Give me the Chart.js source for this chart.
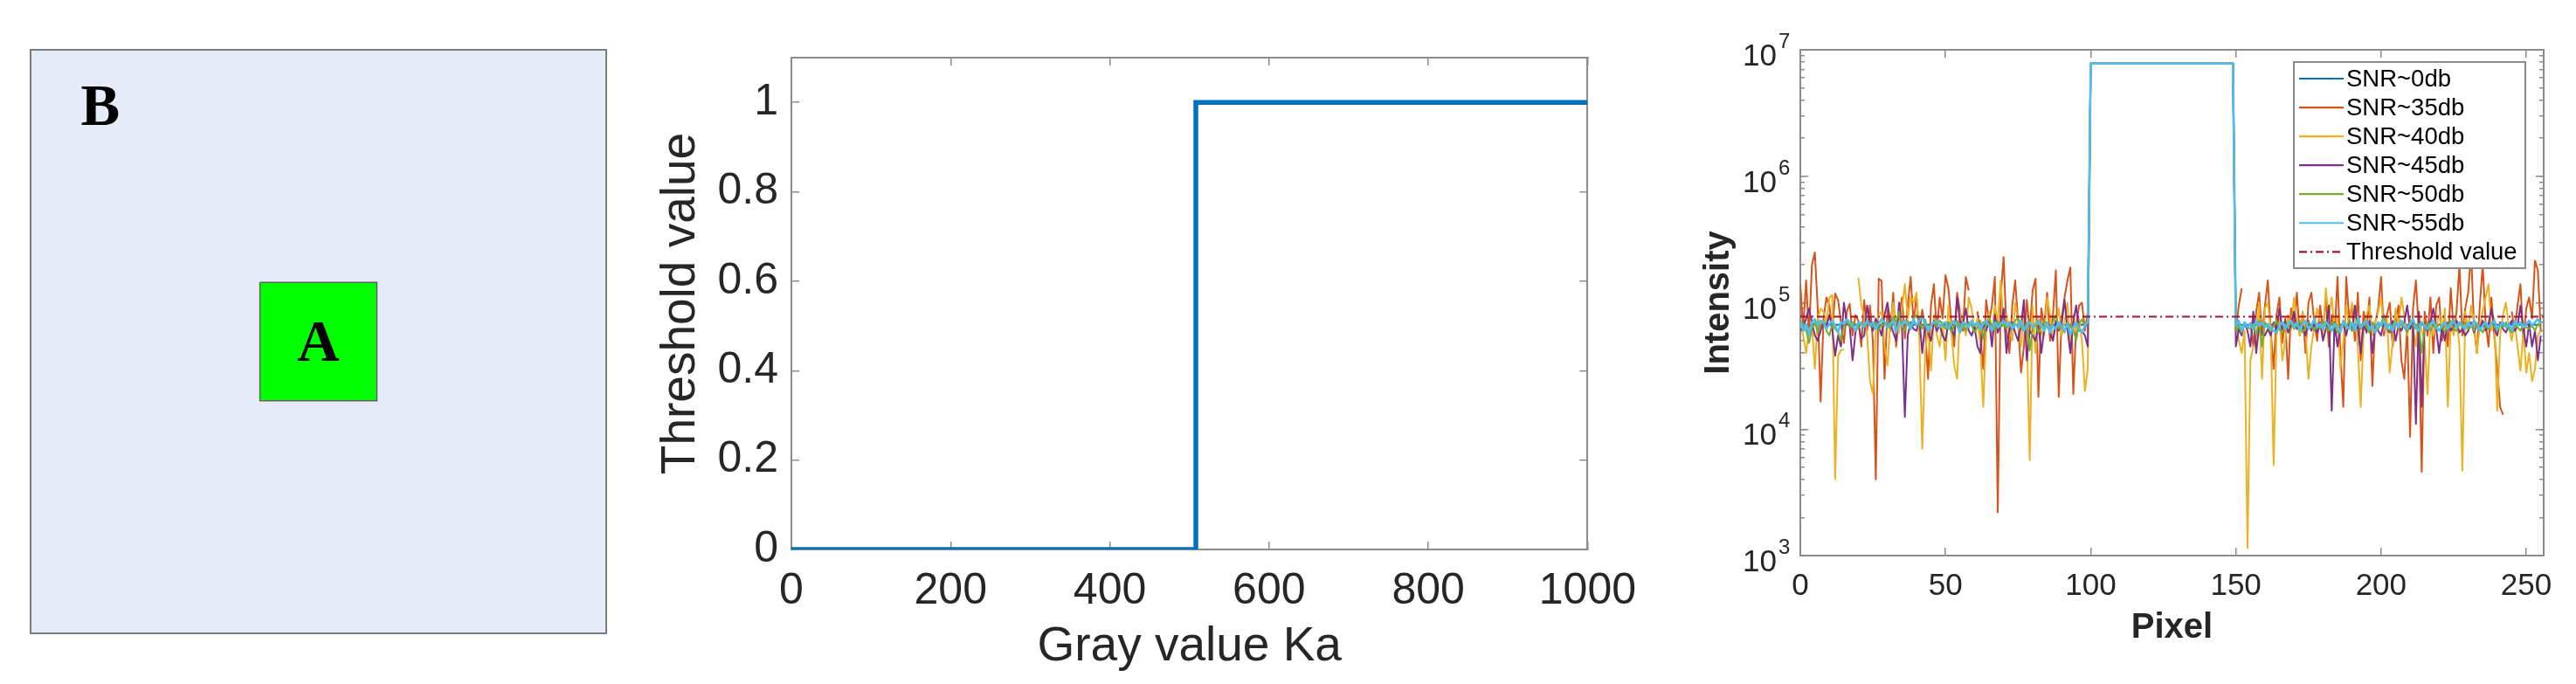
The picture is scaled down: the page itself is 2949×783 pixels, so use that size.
<!DOCTYPE html>
<html>
<head>
<meta charset="utf-8">
<title>Scene, threshold function and intensity profile</title>
<script src="https://cdn.jsdelivr.net/npm/chart.js@4.4.1/dist/chart.umd.min.js"></script>
<style>
  html, body { margin: 0; padding: 0; background: #fff; }
  #wrap { position: relative; width: 2949px; height: 783px; overflow: hidden; }
  canvas { position: absolute; top: 0; }
</style>
</head>
<body>
<div id="wrap">
  <canvas id="scene" width="720" height="783" style="left:0px"></canvas>
  <canvas id="step" width="1160" height="783" style="left:740px"></canvas>
  <canvas id="profile" width="1049" height="783" style="left:1900px"></canvas>
</div>
<script>
// ---- panel 1: the 256x256 scene, object A inside background B
const imageSize = 256;
const squareX = [102, 154, 154, 102, 102];
const squareY = [102, 102, 154, 154, 102];
const regionLabels = ['A', 'B'];

// ---- panel 2: threshold step function
const stepX = [0, 508, 508, 1000];
const stepY = [0, 0, 1, 1];

// ---- panel 3: intensity profile along one row (values in thousands)
const seriesLabels = ['SNR~0db', 'SNR~35db', 'SNR~40db', 'SNR~45db', 'SNR~50db', 'SNR~55db', 'Threshold value'];
const seriesColors = ['#0072BD', '#D95319', '#EDB120', '#7E2F8E', '#77AC30', '#4DBEEE', '#A2142F'];
const intensityDecades = [3, 4, 5, 6, 7];
const pixelTicks = [0, 50, 100, 150, 200, 250];

const rightStart = 150;          // first pixel after the object
const plateauX = [100, 149];     // object pixels
const plateauK = [7780, 7780];

const snr0X = [0, 99, 100, 149, 150, 255];
const snr0K = [67, 67, 7780, 7780, 67, 67];
const thresholdX = [0, 256];
const thresholdK = [77.5, 77.5];

const snr35Left = [
  140, 62, 150, 55, 200, 250, 90, 16.5, 75, 110,
  95, 60, 118, 105, 70, 48, 85, 98, 55, 80,
  72, 45, 105, 60, 95, 50, 4, 155, 148, 25,
  88, 60, 120, 45, 78, 110, 52, 95, 160, 70,
  112, 55, 88, 62, 25, 95, 140, 58, 110, 75,
  165, 130, 70, 45, 120, 85, 60, 160, 125, null,
  null, 85, 55, 30, 105, 70, 95, 160, 2.2, 110,
  230, 60, 40, 95, 150, 70, 28, 45, 105, 60,
  125, 155, 18, 90, 65, 120, 50, 80, 180, 18,
  75, 110, 150, 190, 19, 65, 95, 100, 60, 85
];
const snr35Right = [
  60, 95, 130, null, null, 70, 45, 85, 120, 55,
  95, 150, 60, 30, 80, 110, 48, 75, 25, 90,
  65, 120, 55, 85, 40, 100, 120, 70, 50, 95,
  60, 110, 45, 80, 55, 160, 40, 15, 160, 75,
  95, 50, 120, 35, 85, 60, 110, 22, 70, 90,
  160, 55, 80, 100, 45, 70, 95, 35, 25, 65,
  8.7, 90, 150, 60, 4.6, 85, 55, 110, 40, 95,
  110, 50, 75, 45, 130, 60, 85, 200, 55, 90,
  120, 250, 65, 40, 95, 200, 70, 45, 110, 55,
  30, 15, 13, null, null, 85, 60, 95, 140, 50,
  90, 110, 75, 215, 180, 60
];
const snr40Left = [
  70, 55, 40, 62, 65, 30, 75, 90, 85, 70,
  110, 115, 4, 38, 42, 43, null, null, null, null,
  158, 95, 80, 55, 24, 19, 60, 80, 85, 45,
  32, 70, 100, 55, 58, 90, 140, 75, 110, 100,
  120, 50, 7, 40, 65, 29, 80, 55, 45, 70,
  35, 95, 60, 32, 25, 85, 70, 55, 110, 90,
  60, 75, 45, 15, 60, 85, 55, 95, 70, 150,
  65, 80, 60, 50, 100, 70, 45, 85, 60, 5.7,
  95, 40, 75, 60, 55, 110, 80, 50, 65, 90,
  55, 70, 100, 45, 80, 60, 75, 50, 20, 30
];
const snr40Right = [
  70, 50, 40, 60, 1.15, 35, 45, 48, 100, 25,
  90, 100, 60, 5.2, 55, 75, 35, 50, 80, 60,
  110, 70, 55, 85, 60, 25, 45, 65, 90, 70,
  55, 130, 75, 110, 60, 80, 30, 50, 95, 65,
  100, 75, 45, 15, 60, 80, 95, 55, 70, 85,
  110, 60, 75, 28, 50, 90, 65, 110, 80, 55,
  75, 65, 45, 85, 60, 50, 19, 70, 55, 65,
  80, 60, 90, 15, 70, 55, 75, 45, 4.7, 85,
  60, 95, 70, 40, 65, 85, 110, 140, 60, 75,
  14, 55, 80, 100, 65, 50, 70, 45, 29, 60,
  28, 40, 24, 30, 55, 60
];
const snr45Left = [
  60, 65, 75, 90, 70, 55, 50, 60, 72, 65,
  80, 62, 38, 55, 45, 100, 70, 65, 35, 58,
  68, 52, 55, 95, 70, 60, 75, 65, 55, 80,
  100, 70, 58, 50, 100, 65, 12.5, 55, 70, 62,
  60, 75, 40, 68, 58, 50, 72, 60, 66, 55,
  50, 70, 62, 55, 110, 70, 68, 90, 60, 55,
  65, 45, 40, 70, 60, 72, 45, 80, 58, 66,
  90, 40, 62, 70, 58, 50, 65, 105, 35, 60,
  55, 50, 66, 40, 62, 70, 58, 50, 72, 60,
  68, 105, 62, 40, 70, 95, 60, 60, 55, 45
];
const snr45Right = [
  45, 62, 55, 70, 60, 45, 85, 40, 65, 58,
  55, 62, 55, 70, 60, 90, 60, 72, 58, 66,
  85, 62, 70, 65, 55, 72, 60, 68, 58, 70,
  50, 62, 95, 14, 70, 45, 62, 68, 55, 72,
  60, 95, 62, 40, 68, 58, 72, 40, 66, 60,
  55, 70, 62, 58, 72, 50, 66, 60, 70, 95,
  62, 70, 11, 85, 15, 68, 60, 72, 90, 62,
  40, 66, 50, 70, 60, 65, 72, 58, 62, 55,
  60, 70, 58, 66, 62, 72, 60, 68, 90, 62,
  55, 70, 62, 58, 66, 72, 60, 65, 95, 62,
  45, 68, 45, 60, 35, 55
];
const snr50Left = [
  72, 68, 60, 48, 62, 70, 58, 66, 72, 60,
  55, 68, 62, 58, 50, 66, 72, 64, 70, 68,
  62, 70, 66, 72, 68, 64, 70, 60, 68, 66,
  72, 62, 78, 70, 85, 64, 60, 72, 66, 74,
  80, 68, 62, 74, 58, 66, 70, 64, 72, 68,
  62, 70, 58, 66, 72, 64, 68, 60, 70, 66,
  58, 64, 72, 52, 68, 74, 66, 60, 72, 64,
  68, 62, 70, 66, 72, 76, 64, 60, 70, 42,
  62, 68, 58, 66, 72, 64, 60, 70, 80, 62,
  66, 58, 70, 64, 62, 50, 68, 74, 64, 72
];
const snr50Right = [
  60, 66, 58, 70, 64, 62, 68, 55, 72, 45,
  70, 64, 60, 66, 72, 62, 58, 68, 64, 70,
  62, 66, 72, 58, 64, 70, 66, 60, 68, 62,
  72, 64, 60, 70, 66, 58, 62, 68, 64, 72,
  60, 66, 70, 62, 68, 64, 58, 70, 66, 62,
  68, 80, 64, 60, 66, 72, 62, 68, 64, 58,
  70, 66, 62, 68, 40, 64, 70, 60, 66, 62,
  68, 64, 58, 66, 72, 62, 60, 68, 64, 70,
  62, 66, 60, 68, 64, 58, 66, 62, 70, 64,
  60, 68, 64, 70, 62, 58, 66, 64, 60, 68,
  64, 62, 66, 60, 68, 64
];
const snr55Left = [
  72, 60, 68, 55, 70, 74, 66, 72, 70, 62,
  68, 72, 66, 58, 70, 68, 74, 70, 66, 60,
  70, 68, 64, 72, 66, 70, 62, 68, 74, 70,
  64, 68, 72, 58, 70, 66, 72, 68, 62, 74,
  66, 72, 78, 68, 60, 66, 70, 72, 64, 68,
  70, 62, 68, 72, 66, 58, 70, 68, 64, 72,
  66, 70, 62, 68, 72, 66, 60, 70, 64, 68,
  72, 66, 70, 62, 68, 64, 72, 60, 66, 70,
  64, 68, 72, 66, 60, 70, 58, 66, 62, 70,
  66, 60, 68, 56, 64, 70, 62, 58, 66, 70
];
const snr55Right = [
  66, 72, 60, 70, 64, 68, 62, 72, 66, 70,
  64, 68, 62, 60, 58, 66, 70, 62, 68, 72,
  64, 70, 60, 68, 72, 62, 66, 74, 64, 68,
  62, 70, 66, 60, 68, 64, 58, 72, 66, 62,
  70, 60, 76, 64, 68, 72, 62, 66, 58, 70,
  66, 72, 62, 68, 60, 70, 64, 72, 66, 62,
  68, 74, 64, 60, 70, 66, 62, 68, 72, 64,
  60, 66, 70, 62, 68, 72, 64, 70, 66, 62,
  70, 64, 72, 68, 60, 66, 70, 64, 68, 72,
  62, 66, 70, 64, 68, 60, 72, 66, 70, 64,
  68, 72, 66, 70, 74, 68
];

const FONT = "'Liberation Sans', Arial, Helvetica, sans-serif";
const axisGray = '#8c8c8c';
const textGray = '#262626';
Chart.defaults.font.family = FONT;

function toPoints(xs, ks) {
  return xs.map((x, i) => ({ x: x, y: ks[i] * 1000 }));
}

function profilePoints(left, right) {
  const pts = [];
  left.forEach((v, i) => pts.push({ x: i, y: v == null ? null : v * 1000 }));
  plateauX.forEach((x, i) => pts.push({ x: x, y: plateauK[i] * 1000 }));
  right.forEach((v, i) => pts.push({ x: rightStart + i, y: v == null ? null : v * 1000 }));
  return pts;
}

// extra axis that only draws the inward tick marks of the MATLAB box
function tickOnlyAxis(axis, position, base, tickLen, weight) {
  const isX = axis === 'x';
  return Object.assign({
    axis: axis,
    position: position,
    weight: weight || 0,
    ticks: Object.assign({ display: false }, base.ticks || {}),
    grid: { drawOnChartArea: false, tickLength: tickLen, color: axisGray, lineWidth: 1.5 },
    border: { color: axisGray, width: 2 },
    afterFit: s => { if (isX) s.height = 0; else s.width = 0; }
  }, base.range);
}

// ---------------- panel 1 ----------------
const sceneBox = {
  id: 'sceneBox',
  beforeDraw(chart) {
    const { ctx, chartArea: a } = chart;
    ctx.save();
    ctx.fillStyle = '#E6ECF7';
    ctx.fillRect(a.left, a.top, a.width, a.height);
    ctx.restore();
  },
  afterDraw(chart) {
    const { ctx, chartArea: a, scales } = chart;
    ctx.save();
    ctx.strokeStyle = '#7b7b7b';
    ctx.lineWidth = 2;
    ctx.strokeRect(a.left, a.top, a.width, a.height);
    ctx.fillStyle = '#000';
    ctx.font = "bold 67px 'Liberation Serif', 'Times New Roman', serif";
    ctx.textAlign = 'center';
    ctx.textBaseline = 'alphabetic';
    const cx = (Math.min(...squareX) + Math.max(...squareX)) / 2;
    const cy = (Math.min(...squareY) + Math.max(...squareY)) / 2;
    ctx.fillText(regionLabels[0], scales.x.getPixelForValue(cx), scales.y.getPixelForValue(cy) + 22);
    ctx.fillText(regionLabels[1], scales.x.getPixelForValue(31), scales.y.getPixelForValue(33));
    ctx.restore();
  }
};

new Chart(document.getElementById('scene'), {
  type: 'scatter',
  data: {
    datasets: [{
      data: squareX.map((x, i) => ({ x: x, y: squareY[i] })),
      showLine: true,
      fill: 'shape',
      backgroundColor: '#00FF00',
      borderColor: '#606060',
      borderWidth: 1.5,
      pointRadius: 0,
      tension: 0
    }]
  },
  plugins: [sceneBox],
  options: {
    responsive: false,
    animation: false,
    devicePixelRatio: 1,
    layout: { padding: { left: 35, top: 57, right: 26, bottom: 58 } },
    plugins: { legend: { display: false }, tooltip: { enabled: false } },
    scales: {
      x: { type: 'linear', min: 0, max: imageSize, display: false },
      y: { type: 'linear', min: 0, max: imageSize, reverse: true, display: false }
    }
  }
});

// ---------------- panel 2 ----------------
const stepXRange = { type: 'linear', min: 0, max: 1000 };
const stepYRange = { type: 'linear', min: 0, max: 1.1 };

new Chart(document.getElementById('step'), {
  type: 'scatter',
  data: {
    datasets: [{
      data: stepX.map((x, i) => ({ x: x, y: stepY[i] })),
      showLine: true,
      borderColor: '#0072BD',
      borderWidth: 5.5,
      pointRadius: 0,
      tension: 0,
      xAxisID: 'x',
      yAxisID: 'y'
    }]
  },
  options: {
    responsive: false,
    animation: false,
    devicePixelRatio: 1,
    layout: { padding: { left: 7, top: 66, right: 65, bottom: 0 } },
    plugins: { legend: { display: false }, tooltip: { enabled: false } },
    scales: {
      x: Object.assign({}, stepXRange, {
        position: 'bottom',
        ticks: { stepSize: 200, includeBounds: false, maxRotation: 0, autoSkip: false,
                 padding: 27, color: textGray, font: { size: 50 }, callback: v => String(v) },
        grid: { drawOnChartArea: false, tickLength: -9, color: axisGray, lineWidth: 1.5 },
        border: { color: axisGray, width: 2 },
        title: { display: true, text: 'Gray value Ka', color: textGray, font: { size: 55 },
                 padding: { top: 0, bottom: 9 } },
        afterFit: s => { s.height = 154; }
      }),
      y: Object.assign({}, stepYRange, {
        position: 'left',
        ticks: { stepSize: 0.2, includeBounds: false, padding: 24, color: textGray, font: { size: 50 },
                 callback: v => String(Number(v.toFixed(2))) },
        grid: { drawOnChartArea: false, tickLength: -9, color: axisGray, lineWidth: 1.5 },
        border: { color: axisGray, width: 2 },
        title: { display: true, text: 'Threshold value', color: textGray, font: { size: 55 },
                 padding: { top: 0, bottom: 0 } },
        afterFit: s => { s.width = 159; }
      }),
      xTop: tickOnlyAxis('x', 'top', { range: stepXRange, ticks: { stepSize: 200, includeBounds: false } }, -9),
      yRight: tickOnlyAxis('y', 'right', { range: stepYRange, ticks: { stepSize: 0.2, includeBounds: false } }, -9)
    }
  }
});

// ---------------- panel 3 ----------------
const decadeTicks = intensityDecades.map(e => Math.pow(10, e));
const minorTicks = [];
intensityDecades.slice(0, -1).forEach(e => {
  for (let m = 1; m <= 9; m++) minorTicks.push(m * Math.pow(10, e));
});
minorTicks.push(decadeTicks[decadeTicks.length - 1]);

const pixelRange = { type: 'linear', min: 0, max: 256 };
const intensityRange = { type: 'logarithmic', min: decadeTicks[0], max: decadeTicks[decadeTicks.length - 1] };
const setTicks = vals => s => { s.ticks = vals.map(v => ({ value: v })); };

const profileSeries = [
  toPoints(snr0X, snr0K),
  profilePoints(snr35Left, snr35Right),
  profilePoints(snr40Left, snr40Right),
  profilePoints(snr45Left, snr45Right),
  profilePoints(snr50Left, snr50Right),
  profilePoints(snr55Left, snr55Right),
  toPoints(thresholdX, thresholdK)
];

const logLabels = {
  id: 'logLabels',
  afterDraw(chart) {
    const s = chart.scales.y;
    const ctx = chart.ctx;
    ctx.save();
    ctx.fillStyle = textGray;
    ctx.textBaseline = 'alphabetic';
    intensityDecades.forEach(e => {
      const py = s.getPixelForValue(Math.pow(10, e));
      ctx.font = '35px ' + FONT;
      ctx.textAlign = 'right';
      ctx.fillText('10', s.right - 27, py + 18);
      ctx.font = '24px ' + FONT;
      ctx.textAlign = 'left';
      ctx.fillText(String(e), s.right - 25, py - 2);
    });
    ctx.restore();
  }
};

const legendBox = {
  id: 'legendBox',
  afterDatasetsDraw(chart) {
    const { ctx, chartArea } = chart;
    const w = 265, h = 236;
    const right = chartArea.right - 21;
    const top = chartArea.top + 14;
    const left = right - w;
    ctx.save();
    ctx.fillStyle = '#fff';
    ctx.fillRect(left, top, w, h);
    ctx.strokeStyle = '#8a8a8a';
    ctx.lineWidth = 2;
    ctx.strokeRect(left, top, w, h);
    ctx.font = '27.5px ' + FONT;
    ctx.textBaseline = 'middle';
    ctx.textAlign = 'left';
    chart.data.datasets.forEach((ds, i) => {
      const y = top + 19 + i * 33.05;
      ctx.strokeStyle = ds.borderColor;
      ctx.lineWidth = 2.2;
      ctx.setLineDash(ds.borderDash || []);
      ctx.beginPath();
      ctx.moveTo(left + 6, y);
      ctx.lineTo(left + 57, y);
      ctx.stroke();
      ctx.setLineDash([]);
      ctx.fillStyle = '#000';
      ctx.fillText(ds.label, left + 60, y + 1);
    });
    ctx.restore();
  }
};

new Chart(document.getElementById('profile'), {
  type: 'scatter',
  data: {
    datasets: profileSeries.map((pts, i) => ({
      label: seriesLabels[i],
      data: pts,
      showLine: true,
      spanGaps: false,
      borderColor: seriesColors[i],
      borderWidth: i === 5 ? 2.6 : (i === 6 ? 2.2 : 2),
      borderDash: i === 6 ? [9, 4, 2, 4] : [],
      borderJoinStyle: 'round',
      pointRadius: 0,
      tension: 0,
      order: profileSeries.length - i,
      xAxisID: 'x',
      yAxisID: 'y'
    }))
  },
  plugins: [logLabels, legendBox],
  options: {
    responsive: false,
    animation: false,
    devicePixelRatio: 1,
    layout: { padding: { left: 0, top: 57, right: 37, bottom: 0 } },
    plugins: { legend: { display: false }, tooltip: { enabled: false } },
    scales: {
      x: Object.assign({}, pixelRange, {
        position: 'bottom',
        afterBuildTicks: setTicks(pixelTicks),
        ticks: { maxRotation: 0, autoSkip: false, padding: 23, color: textGray, font: { size: 35 },
                 callback: v => String(v) },
        grid: { drawOnChartArea: false, tickLength: -9, color: axisGray, lineWidth: 1.5 },
        border: { color: axisGray, width: 2 },
        title: { display: true, text: 'Pixel', color: textGray, font: { size: 40, weight: 'bold' },
                 padding: { top: 0, bottom: 40 } },
        afterFit: s => { s.height = 147; }
      }),
      y: Object.assign({}, intensityRange, {
        position: 'left',
        weight: 1,
        afterBuildTicks: setTicks(minorTicks),
        ticks: { display: false },
        grid: { drawOnChartArea: false, tickLength: -5, color: axisGray, lineWidth: 1.5 },
        border: { color: axisGray, width: 2 },
        title: { display: true, text: 'Intensity', color: textGray, font: { size: 40, weight: 'bold' },
                 padding: { top: 44, bottom: 0 } },
        afterFit: s => { s.width = 161; }
      }),
      yMaj: Object.assign(tickOnlyAxis('y', 'left', { range: intensityRange }, -9, 0),
                          { afterBuildTicks: setTicks(decadeTicks) }),
      xTop: Object.assign(tickOnlyAxis('x', 'top', { range: pixelRange }, -9),
                          { afterBuildTicks: setTicks(pixelTicks) }),
      yRight: Object.assign(tickOnlyAxis('y', 'right', { range: intensityRange }, -5, 0),
                            { afterBuildTicks: setTicks(minorTicks) }),
      yRightMaj: Object.assign(tickOnlyAxis('y', 'right', { range: intensityRange }, -9, 1),
                               { afterBuildTicks: setTicks(decadeTicks) })
    }
  }
});
</script>
</body>
</html>
